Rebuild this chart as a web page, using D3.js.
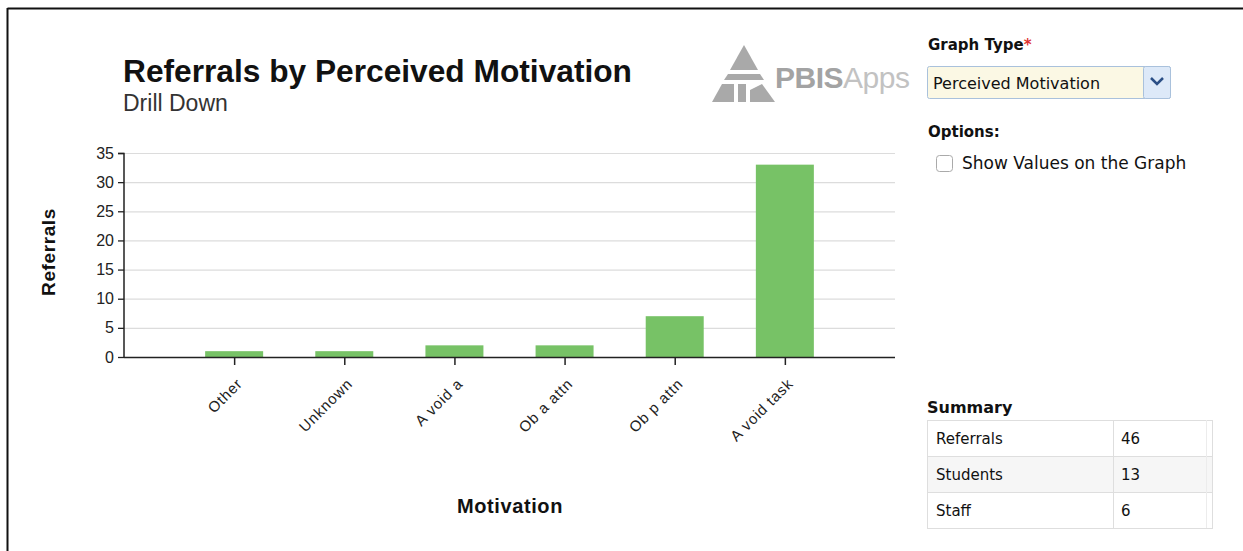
<!DOCTYPE html>
<html><head><meta charset="utf-8">
<script src="https://cdn.jsdelivr.net/npm/d3@7"></script>
<style>
html,body{margin:0;padding:0;background:#fff;}
svg{display:block;}
</style></head>
<body>
<svg id="c" width="1243" height="551"></svg>
<script>
const categories = ["Other", "Unknown", "A void a", "Ob a attn", "Ob p attn", "A void task"];
const referrals = [1, 1, 2, 2, 7, 33];
const yTicks = [0, 5, 10, 15, 20, 25, 30, 35];
const summaryLabels = ["Referrals", "Students", "Staff"];
const summaryValues = [46, 13, 6];

const svg = d3.select("#c");
const FONT = "Liberation Sans, Arial, sans-serif";
const UI = "DejaVu Sans, Verdana, sans-serif";

// frame
svg.append("line").attr("x1",7.5).attr("x2",1243).attr("y1",8.5).attr("y2",8.5).attr("stroke","#111").attr("stroke-width",2);
svg.append("line").attr("x1",7.5).attr("x2",7.5).attr("y1",8).attr("y2",551).attr("stroke","#111").attr("stroke-width",2);

// titles
svg.append("text").attr("x",123).attr("y",82).attr("font-family",FONT).attr("font-weight","bold").attr("font-size",31.7).attr("fill","#111").text("Referrals by Perceived Motivation");
svg.append("text").attr("x",123).attr("y",111).attr("font-family",FONT).attr("font-size",23).attr("fill","#333").text("Drill Down");

// logo
const lg = svg.append("g").attr("fill","#a9a9a9");
lg.append("path").attr("d","M744,45 L758,70 L730,70 Z");
lg.append("path").attr("d","M728,74 L760,74 L764,80 L724,80 Z");
lg.append("path").attr("d","M722,84 L734,84 L734,102 L712,102 Z");
lg.append("path").attr("d","M738,84 L746,84 L746,102 L738,102 Z");
lg.append("path").attr("d","M762,84 L775,102 L750,102 L750,90 Z");
svg.append("text").attr("x",775).attr("y",88).attr("font-family",FONT).attr("font-size",30).attr("letter-spacing",-0.5)
  .call(t=>{t.append("tspan").attr("font-weight","bold").attr("fill","#a3a3a3").text("PBIS");
            t.append("tspan").attr("fill","#c2c2c2").text("Apps");});

// scales
const x = d3.scalePoint().domain(categories).range([124, 895]).padding(1);
const y = d3.scaleLinear().domain([0, 35]).range([357, 153]);

// grid
svg.append("g").selectAll("line").data(yTicks.filter(d=>d>0)).join("line")
  .attr("x1",124).attr("x2",895).attr("y1",d=>y(d)+0.5).attr("y2",d=>y(d)+0.5)
  .attr("stroke","#dcdcdc").attr("stroke-width",1.2);

// bars
const bw = 58;
svg.append("g").selectAll("rect").data(referrals).join("rect")
  .attr("x",(d,i)=>x(categories[i])-bw/2).attr("width",bw)
  .attr("y",d=>y(d)).attr("height",d=>y(0)-y(d))
  .attr("fill","#77c266");

// y axis
const ya = svg.append("g").attr("transform","translate(124,0)")
  .call(d3.axisLeft(y).tickValues(yTicks).tickSize(6).tickPadding(4));
ya.select(".domain").attr("stroke","#222").attr("stroke-width",1.5).attr("d","M-6,153.5H0V357.5");
ya.selectAll(".tick line").attr("stroke","#222").attr("stroke-width",1.3);
ya.selectAll(".tick text").attr("font-family",FONT).attr("font-size",16).attr("fill","#222");

// x axis
const xa = svg.append("g").attr("transform","translate(0,357)")
  .call(d3.axisBottom(x).tickSize(8).tickPadding(6));
xa.select(".domain").attr("stroke","#222").attr("stroke-width",1.5).attr("d","M124,0.5H895");
xa.selectAll(".tick line").attr("stroke","#222").attr("stroke-width",1.5);
xa.selectAll(".tick text").attr("font-family",FONT).attr("font-size",15).attr("letter-spacing",0.8).attr("fill","#222")
  .attr("text-anchor","end").attr("dy","0.35em")
  .attr("transform","translate(5,24) rotate(-45)").attr("x",0).attr("y",0);

// axis titles
svg.append("text").attr("transform","translate(55,252) rotate(-90)").attr("text-anchor","middle")
  .attr("font-family",FONT).attr("font-weight","bold").attr("font-size",19).attr("letter-spacing",0.6).attr("fill","#111").text("Referrals");
svg.append("text").attr("x",510).attr("y",513).attr("text-anchor","middle")
  .attr("font-family",FONT).attr("font-weight","bold").attr("font-size",20).attr("letter-spacing",0.6).attr("fill","#111").text("Motivation");

// right panel
svg.append("text").attr("x",928).attr("y",50).attr("font-family",UI).attr("font-weight","bold").attr("font-size",15).attr("fill","#111")
  .call(t=>{t.append("tspan").text("Graph Type"); t.append("tspan").attr("fill","#d33").text("*");});
svg.append("rect").attr("x",927.5).attr("y",66.5).attr("width",243).attr("height",32).attr("rx",2).attr("fill","#fbf8e4").attr("stroke","#a9c1dc");
svg.append("rect").attr("x",1143.5).attr("y",66.5).attr("width",27).attr("height",32).attr("rx",2).attr("fill","#dde9f8").attr("stroke","#a9c1dc");
svg.append("path").attr("d","M1151,78 L1157,84 L1163,78").attr("fill","none").attr("stroke","#2b4f86").attr("stroke-width",2.5);
svg.append("text").attr("x",933).attr("y",89).attr("font-family",UI).attr("font-size",16).attr("fill","#111").text("Perceived Motivation");

svg.append("text").attr("x",928).attr("y",137).attr("font-family",UI).attr("font-weight","bold").attr("font-size",15).attr("fill","#111").text("Options:");
svg.append("rect").attr("x",936.5).attr("y",155.5).attr("width",16).attr("height",16).attr("rx",3).attr("fill","#fff").attr("stroke","#aaa");
svg.append("text").attr("x",962).attr("y",169).attr("font-family",UI).attr("font-size",17).attr("fill","#111").text("Show Values on the Graph");

svg.append("text").attr("x",927).attr("y",413).attr("font-family",UI).attr("font-weight","bold").attr("font-size",16).attr("fill","#111").text("Summary");
const tb = svg.append("g");
const rowH = 36, tx = 927, ty = 420, tw = 285, c2 = 1113;
tb.selectAll("rect.row").data(summaryLabels).join("rect").attr("class","row")
  .attr("x",tx+0.5).attr("y",(d,i)=>ty+0.5+i*rowH).attr("width",tw).attr("height",rowH)
  .attr("fill",(d,i)=>i===1?"#f6f6f6":"#fff").attr("stroke","#dedede");
tb.append("line").attr("x1",c2+0.5).attr("x2",c2+0.5).attr("y1",ty).attr("y2",ty+rowH*3).attr("stroke","#dedede");
tb.append("line").attr("x1",tx+tw-5.5).attr("x2",tx+tw-5.5).attr("y1",ty).attr("y2",ty+rowH*3).attr("stroke","#ececec");
tb.selectAll("text.l").data(summaryLabels).join("text").attr("class","l")
  .attr("x",936).attr("y",(d,i)=>ty+24+i*rowH).attr("font-family",UI).attr("font-size",15).attr("fill","#111").text(d=>d);
tb.selectAll("text.v").data(summaryValues).join("text").attr("class","v")
  .attr("x",1121).attr("y",(d,i)=>ty+24+i*rowH).attr("font-family",UI).attr("font-size",15).attr("fill","#111").text(d=>d);
</script>
</body></html>
